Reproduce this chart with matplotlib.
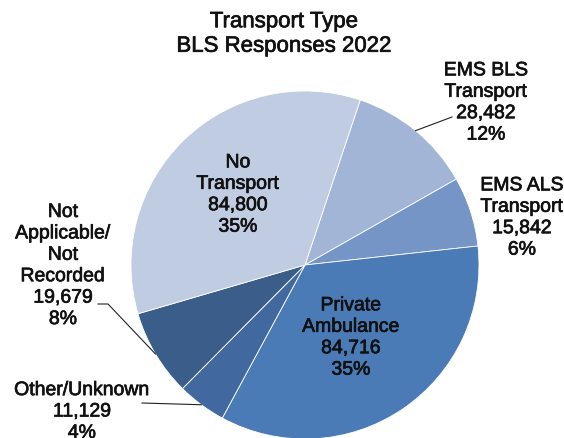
import numpy as np
import matplotlib
matplotlib.use('Agg')
import matplotlib.pyplot as plt
import matplotlib.patheffects as pe

plt.rcParams['font.family'] = ['Liberation Sans', 'DejaVu Sans']

# data (clockwise from the top right)
categories = ['EMS BLS\nTransport', 'EMS ALS\nTransport', 'Private\nAmbulance',
              'Other/Unknown', 'Not\nApplicable/\nNot\nRecorded', 'No\nTransport']
responses = [28482, 15842, 84716, 11129, 19679, 84800]
percents = [12, 6, 35, 4, 8, 35]
colors = ['#A2B5D7', '#7595C6', '#4A7BB7', '#41699F', '#3A5D8A', '#C0CCE2']

W, H = 564, 439


def px(x, y):
    # pixel position (from top left) -> data coords
    return x, H - y


fig = plt.figure(figsize=(W / 100, H / 100), dpi=100)
ax = fig.add_axes([0, 0, 1, 1])

cx, cy = px(305, 266)
R = 174
wedges, _ = ax.pie(responses, startangle=71.5, counterclock=False, colors=colors,
                   center=(cx, cy), radius=R,
                   wedgeprops=dict(edgecolor='white', linewidth=0.6))
ax.set_xlim(0, W)
ax.set_ylim(0, H)
ax.set_aspect('equal')
ax.axis('off')

heavy = [pe.withStroke(linewidth=0.5, foreground='#111111')]

ax.text(*px(284, 35), 'Transport Type\nBLS Responses 2022', ha='center', va='center',
        fontsize=16, linespacing=1.22, color='#111111', path_effects=heavy)

# label centres in pixels
label_pos = [(486, 104), (522, 219), (351, 339), (82, 413), (63, 267), (238, 196)]
for name, val, pct, (lx, ly) in zip(categories, responses, percents, label_pos):
    ax.text(*px(lx, ly), f'{name}\n{val:,}\n{pct}%', ha='center', va='center',
            fontsize=14, color='#111111', linespacing=1.34, path_effects=heavy)


def rim(w):
    a = np.deg2rad((w.theta1 + w.theta2) / 2)
    return cx + R * np.cos(a), cy + R * np.sin(a)


# leader lines
leaders = {0: [(452, 118)], 3: [(142, 404)], 4: [(108, 305), (98, 305)]}
for i, pts in leaders.items():
    x0, y0 = rim(wedges[i])
    xs = [x0] + [p[0] for p in pts]
    ys = [y0] + [H - p[1] for p in pts]
    ax.plot(xs, ys, color='#222222', lw=0.8)

fig.savefig('out.png', dpi=100)
